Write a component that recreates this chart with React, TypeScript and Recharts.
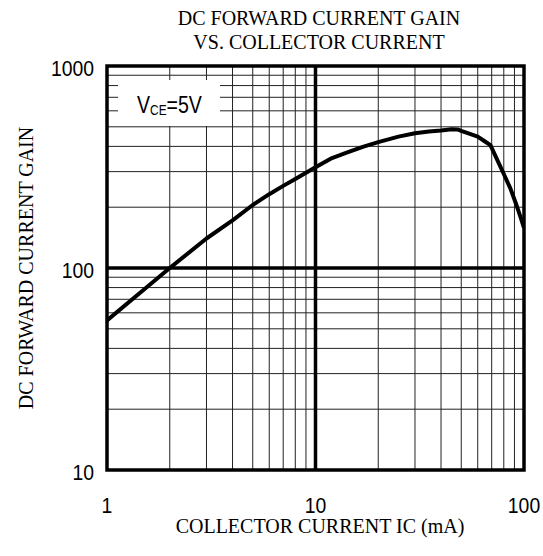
import React from 'react';
import { LineChart, Line, XAxis, YAxis, CartesianGrid, ReferenceLine, ReferenceArea } from 'recharts';

const collectorCurrent = [1, 1.5, 2, 3, 4, 5, 6, 7, 8, 10, 12, 14, 17, 20, 25, 30, 35, 40, 45, 48, 50, 55, 60, 65, 69, 75, 80, 86, 92, 96, 100];
const currentGain = [55, 78, 100, 140, 172, 205, 232, 255, 276, 315, 350, 371, 399, 420, 447, 465, 474, 479, 486, 485, 477, 461, 447, 423, 406, 337, 292, 248, 205, 180, 158];

const xGridTicks = [1, 2, 3, 4, 5, 6, 7, 8, 9, 10, 20, 30, 40, 50, 60, 70, 80, 90, 100];
const yGridTicks = [10, 20, 30, 40, 50, 60, 70, 80, 90, 100, 200, 300, 400, 500, 600, 700, 800, 900, 1000];
const xLabelTicks = [1, 10, 100];
const yLabelTicks = [10, 100, 1000];

const titleLines = ['DC FORWARD CURRENT GAIN', 'VS. COLLECTOR CURRENT'];
const xTitle = 'COLLECTOR CURRENT IC (mA)';
const yTitle = 'DC FORWARD CURRENT GAIN';

const data = collectorCurrent.map((ic, i) => ({ ic, hfe: currentGain[i] }));

const SERIF = '"Liberation Serif", "Times New Roman", serif';
const SANS = '"Liberation Sans", Arial, sans-serif';

const XTick = (props: any) => {
  const { x, y, payload } = props;
  if (!xLabelTicks.includes(payload.value)) return <g />;
  return (
    <g transform={`translate(${x},${y + 43}) scale(0.88,1)`}>
      <text x={0} y={0} textAnchor="middle" fontFamily={SANS} fontSize={22} fill="#000">
        {payload.value}
      </text>
    </g>
  );
};

const YTick = (props: any) => {
  const { x, y, payload } = props;
  if (!yLabelTicks.includes(payload.value)) return <g />;
  return (
    <g transform={`translate(${x - 13},${y + 10}) scale(0.88,1)`}>
      <text x={0} y={0} textAnchor="end" fontFamily={SANS} fontSize={22} fill="#000">
        {payload.value}
      </text>
    </g>
  );
};

export default function App() {
  return (
    <div style={{ position: 'absolute', left: 0, top: 0, width: 543, height: 556, background: '#fff' }}>
      <LineChart
        width={543}
        height={556}
        data={data}
        margin={{ top: 66, right: 19, bottom: 0, left: 0 }}
      >
        <CartesianGrid stroke="#222" strokeWidth={1} />
        <XAxis
          dataKey="ic"
          type="number"
          scale="log"
          domain={[1, 100]}
          ticks={xGridTicks}
          interval={0}
          allowDataOverflow
          axisLine={false}
          tickLine={false}
          tickSize={0}
          tickMargin={0}
          height={86}
          tick={<XTick />}
        />
        <YAxis
          type="number"
          scale="log"
          domain={[10, 1000]}
          ticks={yGridTicks}
          interval={0}
          allowDataOverflow
          axisLine={false}
          tickLine={false}
          tickSize={0}
          tickMargin={0}
          width={107}
          tick={<YTick />}
        />
        <ReferenceLine x={10} stroke="#000" strokeWidth={3.5} />
        <ReferenceLine y={100} stroke="#000" strokeWidth={3.5} />
        <ReferenceArea x1={1} x2={100} y1={10} y2={1000} fill="none" fillOpacity={0} stroke="#000" strokeWidth={3.5} />
        <Line
          type="linear"
          dataKey="hfe"
          stroke="#000"
          strokeWidth={4}
          strokeLinejoin="round"
          dot={false}
          isAnimationActive={false}
        />
      </LineChart>
      <svg
        width={543}
        height={556}
        style={{ position: 'absolute', left: 0, top: 0, pointerEvents: 'none' }}
      >
        <text x={319} y={25} textAnchor="middle" fontFamily={SERIF} fontSize={20} fill="#000">
          {titleLines[0]}
        </text>
        <text x={319} y={49} textAnchor="middle" fontFamily={SERIF} fontSize={20} fill="#000">
          {titleLines[1]}
        </text>
        <text x={320} y={533} textAnchor="middle" fontFamily={SERIF} fontSize={20} fill="#000">
          {xTitle}
        </text>
        <text
          x={0}
          y={0}
          transform="translate(33,268) rotate(-90)"
          textAnchor="middle"
          fontFamily={SERIF}
          fontSize={20}
          fill="#000"
        >
          {yTitle}
        </text>
        <rect x={118} y={80} width={102} height={46} fill="#fff" />
        <g transform="translate(137,113) scale(0.85,1)">
          <text x={0} y={0} fontFamily={SANS} fontSize={23} fill="#000">
            V
            <tspan fontSize={14} dy={2}>CE</tspan>
            <tspan fontSize={23} dy={-2}>=5V</tspan>
          </text>
        </g>
      </svg>
    </div>
  );
}
